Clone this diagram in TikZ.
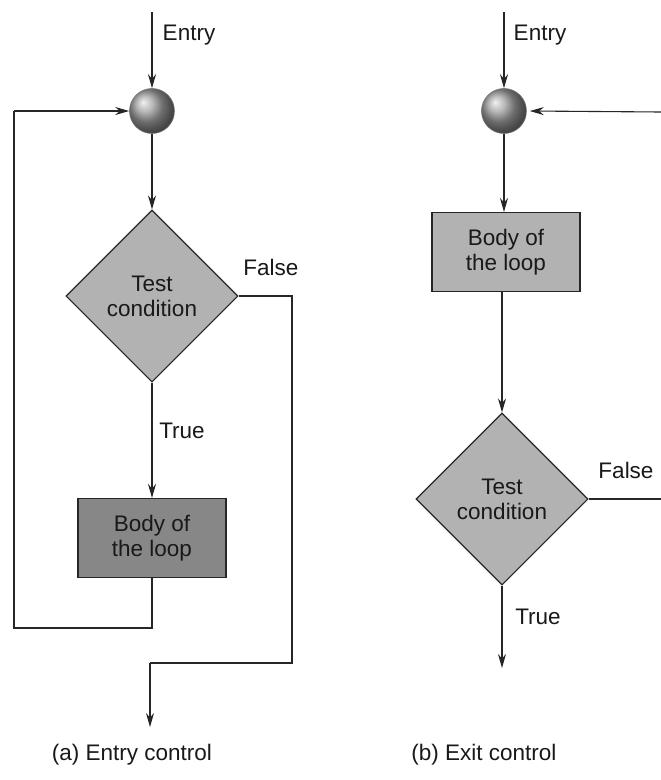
\documentclass[tikz,border=0pt]{standalone}
\usepackage{fontspec}
\setmainfont{Liberation Sans}
\usetikzlibrary{shapes.geometric,arrows.meta}
\begin{document}
\begin{tikzpicture}[x=1pt,y=-1pt,
  every node/.style={font=\fontsize{22.5}{25}\selectfont, text=black!90},
  line/.style={draw=black!85, line width=1.1pt},
  arr/.style={line, -{Stealth[length=14pt,width=8pt]}},
  ballnode/.style={circle, minimum size=45pt, inner sep=0pt, shading=ball, ball color=black!38, draw=black!55, line width=0.6pt},
  decision/.style={diamond, draw=black!85, line width=1.1pt, fill=black!30, inner sep=0pt, minimum width=172pt, minimum height=172pt, align=center},
  bodybox/.style={rectangle, draw=black!85, line width=1.1pt, minimum width=148pt, minimum height=79pt, inner sep=0pt, align=center},
  lbl/.style={inner sep=0pt}
]
\useasboundingbox (0,0) rectangle (661,780);
\fill[white] (0,0) rectangle (661,780);

% ---------- (a) Entry control ----------
\coordinate (aTop) at (152,12);
\node[ballnode] (ballA) at (152,111) {};
\node[decision] (decA) at (152,296) {Test\\condition};
\node[bodybox, fill=black!47] (boxA) at (152,538) {Body of\\the loop};
\coordinate (aL1) at (152,628);
\coordinate (aL2) at (14,628);
\coordinate (aL3) at (14,111);
\coordinate (aF1) at (292,296);
\coordinate (aF2) at (292,663);
\coordinate (aF3) at (150,663);
\coordinate (aEnd) at (150,727);

\draw[arr] (aTop) -- (ballA.north);
\draw[arr] (ballA.south) -- (decA.north);
\draw[arr] (decA.south) -- (boxA.north);
\draw[line] (boxA.south) -- (aL1) -- (aL2) -- (aL3);
\draw[arr] (aL3) -- (ballA.west);
\draw[line] (decA.east) -- (aF1) -- (aF2) -- (aF3);
\draw[arr] (aF3) -- (aEnd);

\node[lbl] (aEntry) at (189,35) {Entry};
\node[lbl] (aFalse) at (271,267) {False};
\node[lbl] (aTrue) at (182,431) {True};
\node[lbl] (capA) at (132,755) {(a) Entry control};

% ---------- (b) Exit control ----------
\coordinate (bTop) at (504,12);
\coordinate (bRight) at (661,112);
\node[ballnode] (ballB) at (504,111) {};
\node[bodybox, fill=black!30] (boxB) at (506,252) {Body of\\the loop};
\node[decision] (decB) at (502,499) {Test\\condition};
\coordinate (bF) at (661,499);
\coordinate (bEnd) at (502,668);

\draw[arr] (bTop) -- (ballB.north);
\draw[arr] (bRight) -- ([xshift=3pt]ballB.east);
\draw[arr] (ballB.south) -- (boxB.north -| ballB.south);
\draw[arr] (boxB.south -| decB.north) -- (decB.north);
\draw[line] (decB.east) -- (bF);
\draw[arr] (decB.south) -- (bEnd);

\node[lbl] (bEntry) at (540,35) {Entry};
\node[lbl] (bFalse) at (626,470) {False};
\node[lbl] (bTrue) at (538,617) {True};
\node[lbl] (capB) at (484,755) {(b) Exit control};
\end{tikzpicture}
\end{document}
